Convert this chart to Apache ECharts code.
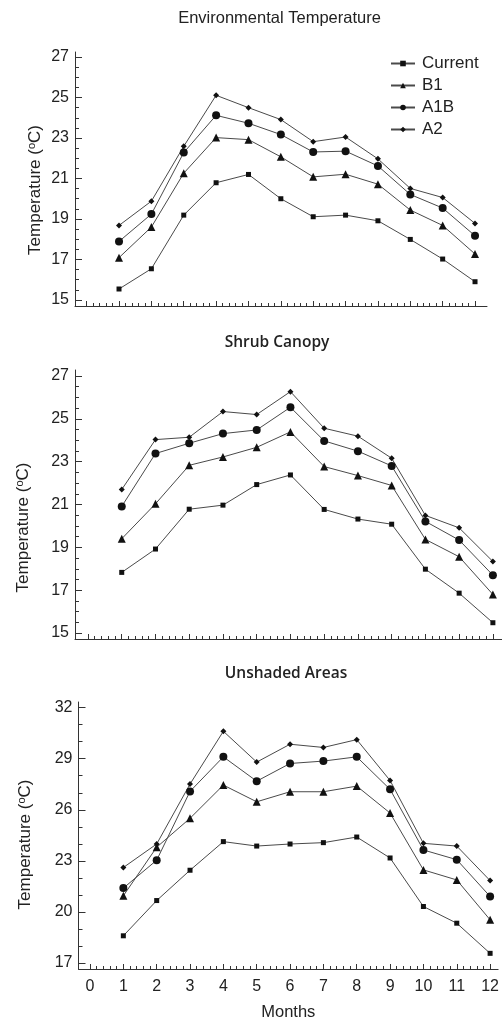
<!DOCTYPE html>
<html>
<head>
<meta charset="utf-8">
<script src="https://cdn.jsdelivr.net/npm/echarts@6/dist/echarts.min.js"></script>
<style>
  html, body { margin: 0; padding: 0; background: #fff; }
  #chart { width: 502px; height: 1025px; }
</style>
</head>
<body>
<div id="chart"></div>
<script>
// Monthly mean temperatures (°C) for the current climate and three scenarios
const months = [1, 2, 3, 4, 5, 6, 7, 8, 9, 10, 11, 12];
const seriesNames = ['Current', 'B1', 'A1B', 'A2'];

const envCurrent = [15.54, 16.54, 19.19, 20.79, 21.20, 20.00, 19.11, 19.19, 18.91, 17.99, 17.02, 15.90];
const envB1      = [17.09, 18.60, 21.26, 23.02, 22.92, 22.07, 21.08, 21.21, 20.72, 19.44, 18.68, 17.27];
const envA1B     = [17.89, 19.24, 22.28, 24.12, 23.73, 23.17, 22.31, 22.35, 21.62, 20.21, 19.54, 18.17];
const envA2      = [18.68, 19.88, 22.59, 25.11, 24.50, 23.91, 22.82, 23.05, 21.97, 20.51, 20.06, 18.78];

const shrubCurrent = [17.83, 18.92, 20.78, 20.97, 21.93, 22.38, 20.77, 20.32, 20.08, 17.98, 16.86, 15.48];
const shrubB1      = [19.40, 21.03, 22.83, 23.22, 23.67, 24.39, 22.77, 22.35, 21.89, 19.37, 18.56, 16.80];
const shrubA1B     = [20.91, 23.38, 23.86, 24.31, 24.48, 25.54, 23.97, 23.49, 22.80, 20.21, 19.34, 17.70];
const shrubA2      = [21.70, 24.03, 24.14, 25.34, 25.20, 26.27, 24.56, 24.19, 23.16, 20.49, 19.91, 18.34];

const openCurrent = [18.60, 20.67, 22.45, 24.13, 23.87, 23.99, 24.07, 24.40, 23.17, 20.32, 19.34, 17.57];
const openB1      = [20.95, 23.80, 25.50, 27.45, 26.47, 27.06, 27.06, 27.39, 25.81, 22.47, 21.88, 19.54];
const openA1B     = [21.40, 23.04, 27.08, 29.11, 27.68, 28.72, 28.86, 29.11, 27.20, 23.64, 23.07, 20.91];
const openA2      = [22.61, 23.99, 27.51, 30.61, 28.80, 29.85, 29.66, 30.12, 27.72, 24.03, 23.87, 21.84];

// Tick labels
const monthTicks = [0, 1, 2, 3, 4, 5, 6, 7, 8, 9, 10, 11, 12];
const envTicks = [15, 17, 19, 21, 23, 25, 27];
const shrubTicks = [15, 17, 19, 21, 23, 25, 27];
const openTicks = [17, 20, 23, 26, 29, 32];

const panelTitles = ['Environmental Temperature', 'Shrub Canopy', 'Unshaded Areas'];

// minor tick positions between major ticks
function minorBetween(ticks, parts) {
  const out = [];
  for (let i = 0; i < ticks.length - 1; i++) {
    const step = (ticks[i + 1] - ticks[i]) / parts;
    for (let k = 1; k < parts; k++) out.push(+(ticks[i] + k * step).toFixed(4));
  }
  return out;
}

const symbols = [
  { symbol: 'rect', size: 5 },
  { symbol: 'triangle', size: 8 },
  { symbol: 'circle', size: 8 },
  { symbol: 'diamond', size: 6 }
];

const panels = [
  { title: panelTitles[0], titleTop: 5, titleLeft: 274.5,
    titleFont: { fontFamily: 'Liberation Sans', fontWeight: 'normal', fontSize: 16.5 },
    grid: { left: 75, top: 52, width: 412, height: 254 },
    x: [-0.36, 12.37], y: [14.70, 27.25], yTicks: envTicks, yMinorParts: 4,
    nameShift: 22, nameGap: 31,
    data: [envCurrent, envB1, envA1B, envA2], showX: false },
  { title: panelTitles[1], titleTop: 330, titleLeft: 272,
    titleFont: { fontFamily: 'Open Sans', fontWeight: 600, fontSize: 15.5 },
    grid: { left: 75, top: 370, width: 427, height: 269 },
    x: [-0.385, 12.27], y: [14.72, 27.28], yTicks: shrubTicks, yMinorParts: 4,
    nameShift: 46, nameGap: 42.5,
    data: [shrubCurrent, shrubB1, shrubA1B, shrubA2], showX: false },
  { title: panelTitles[2], titleTop: 661, titleLeft: 281,
    titleFont: { fontFamily: 'Open Sans', fontWeight: 600, fontSize: 15.5 },
    grid: { left: 78.5, top: 702, width: 423.5, height: 267 },
    x: [-0.345, 12.24], y: [16.65, 32.33], yTicks: openTicks, yMinorParts: 3,
    nameShift: 18, nameGap: 44,
    data: [openCurrent, openB1, openA1B, openA2], showX: true }
];

const axisColor = '#333';
const textColor = '#222';
const option = {
  animation: false,
  backgroundColor: '#fff',
  title: [], grid: [], xAxis: [], yAxis: [], series: [],
  legend: {
    data: seriesNames,
    orient: 'vertical',
    left: 385, top: 50,
    itemWidth: 24, itemHeight: 7, itemGap: 5,
    textStyle: { fontFamily: 'Liberation Sans', fontSize: 17, color: textColor, padding: [0, 0, 0, 2] },
    inactiveColor: '#bbb'
  }
};

panels.forEach((p, i) => {
  option.title.push({
    text: p.title, left: p.titleLeft, top: p.titleTop, textAlign: 'center',
    textStyle: Object.assign({ color: textColor }, p.titleFont)
  });
  option.grid.push(p.grid);

  // major month ticks and labels
  option.xAxis.push({
    gridIndex: i, type: 'value', position: 'bottom', min: p.x[0], max: p.x[1],
    axisLine: { show: true, onZero: false, lineStyle: { color: axisColor, width: 1 } },
    axisTick: { show: true, inside: true, length: 5, customValues: monthTicks, lineStyle: { color: axisColor } },
    axisLabel: { show: p.showX, customValues: monthTicks, margin: 10,
      fontFamily: 'Liberation Sans', fontSize: 16, color: textColor },
    splitLine: { show: false },
    name: p.showX ? 'Months' : '', nameLocation: 'middle', nameGap: 35, nameMoveOverlap: false,
    nameTextStyle: { fontFamily: 'Liberation Sans', fontSize: 16.5, color: textColor }
  });
  // minor month ticks
  option.xAxis.push({
    gridIndex: i, type: 'value', position: 'bottom', min: p.x[0], max: p.x[1],
    axisLine: { show: false, onZero: false },
    axisTick: { show: true, inside: true, length: 3, customValues: minorBetween(monthTicks, 5), lineStyle: { color: axisColor } },
    axisLabel: { show: false }, splitLine: { show: false }
  });

  // major temperature ticks and labels
  option.yAxis.push({
    gridIndex: i, type: 'value', position: 'left', min: p.y[0], max: p.y[1],
    axisLine: { show: true, onZero: false, lineStyle: { color: axisColor, width: 1 } },
    axisTick: { show: true, inside: true, length: 7, customValues: p.yTicks, lineStyle: { color: axisColor } },
    axisLabel: { customValues: p.yTicks, margin: 6,
      fontFamily: 'Liberation Sans', fontSize: 16, color: textColor },
    splitLine: { show: false },
    name: 'Temperature ({sup|o}C)', nameLocation: 'middle', nameGap: p.nameGap, nameRotate: 90,
    nameMoveOverlap: false,
    nameTextStyle: { fontFamily: 'Liberation Sans', fontSize: 17, color: textColor,
      padding: [0, p.nameShift, 0, 0],
      rich: { sup: { fontFamily: 'Liberation Sans', fontSize: 11, color: textColor, verticalAlign: 'top', padding: [0, 0, 7, 0] } } }
  });
  // minor temperature ticks
  option.yAxis.push({
    gridIndex: i, type: 'value', position: 'left', min: p.y[0], max: p.y[1],
    axisLine: { show: false, onZero: false },
    axisTick: { show: true, inside: true, length: 4, customValues: minorBetween(p.yTicks, p.yMinorParts), lineStyle: { color: axisColor } },
    axisLabel: { show: false }, splitLine: { show: false }
  });

  p.data.forEach((vals, s) => {
    option.series.push({
      name: seriesNames[s], type: 'line',
      xAxisIndex: 2 * i, yAxisIndex: 2 * i,
      data: months.map((m, k) => [m, vals[k]]),
      symbol: symbols[s].symbol, symbolSize: symbols[s].size,
      showAllSymbol: true,
      lineStyle: { color: '#4a4a4a', width: 1 },
      itemStyle: { color: '#111' },
      emphasis: { disabled: true }
    });
  });
});

const chart = echarts.init(document.getElementById('chart'), null, { renderer: 'canvas' });
chart.setOption(option);
</script>
</body>
</html>
